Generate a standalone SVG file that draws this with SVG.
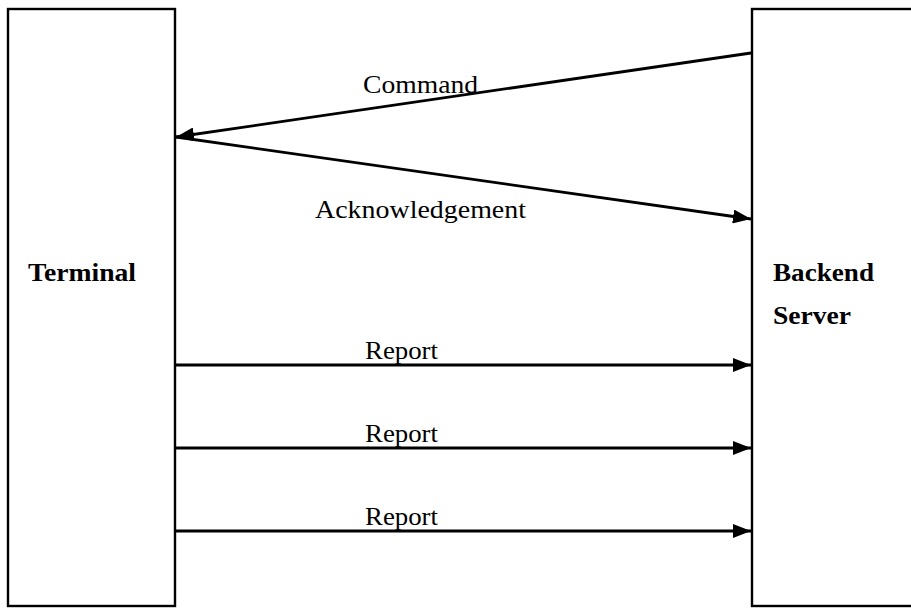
<svg xmlns="http://www.w3.org/2000/svg" width="911" height="608" viewBox="0 0 911 608">
<style>
.box{fill:#fff;stroke:#000;stroke-width:2.4}
.ln{stroke:#000;stroke-width:2.8;fill:none}
.t{font-family:"Liberation Serif","Times New Roman",serif;font-size:25.5px;fill:#000}
.b{font-weight:bold}
</style>
<defs>
<marker id="ah" markerWidth="18" markerHeight="14" refX="18" refY="7" orient="auto" markerUnits="userSpaceOnUse">
<path d="M0,0 L18,7 L0,14 Z" fill="#000"/>
</marker>
</defs>
<rect width="911" height="608" fill="#fff"/>
<g id="terminal">
<rect class="box" x="8" y="9" width="167" height="597"/>
<text class="t b" x="28" y="281" textLength="108" lengthAdjust="spacingAndGlyphs">Terminal</text>
</g>
<g id="server">
<rect class="box" x="752" y="9" width="170" height="597"/>
<text class="t b" x="773" y="281" textLength="101" lengthAdjust="spacingAndGlyphs">Backend</text>
<text class="t b" x="773" y="324" textLength="78" lengthAdjust="spacingAndGlyphs">Server</text>
</g>
<g id="connectors">
<line class="ln" x1="751" y1="53" x2="176" y2="137" marker-end="url(#ah)"/>
<line class="ln" x1="176" y1="137" x2="751" y2="219" marker-end="url(#ah)"/>
<line class="ln" x1="176" y1="365" x2="751" y2="365" marker-end="url(#ah)"/>
<line class="ln" x1="176" y1="448" x2="751" y2="448" marker-end="url(#ah)"/>
<line class="ln" x1="176" y1="531" x2="751" y2="531" marker-end="url(#ah)"/>
</g>
<g id="labels">
<text class="t" x="363" y="93" textLength="115" lengthAdjust="spacingAndGlyphs">Command</text>
<text class="t" x="315" y="218" textLength="211" lengthAdjust="spacingAndGlyphs">Acknowledgement</text>
<text class="t" x="365" y="359" textLength="73" lengthAdjust="spacingAndGlyphs">Report</text>
<text class="t" x="365" y="442" textLength="73" lengthAdjust="spacingAndGlyphs">Report</text>
<text class="t" x="365" y="525" textLength="73" lengthAdjust="spacingAndGlyphs">Report</text>
</g>
</svg>
